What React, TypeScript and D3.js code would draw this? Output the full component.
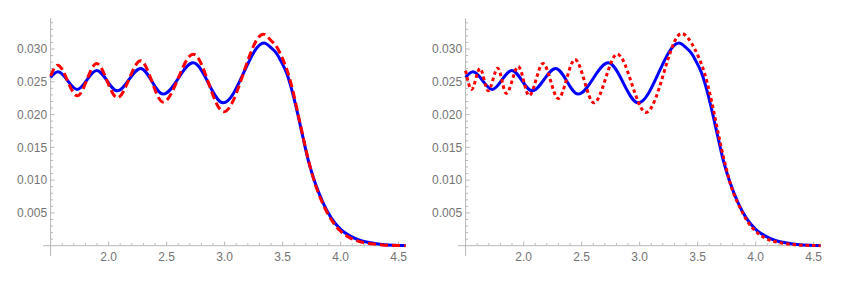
import React from "react";
import * as d3 from "d3";

// tick values
const xTicks = [2.0, 2.5, 3.0, 3.5, 4.0, 4.5];
const yTicks = [0.005, 0.01, 0.015, 0.02, 0.025, 0.03];

// blue solid curve (same in both panels)
const blueSolid: [number, number][] = [
  [1.5, 0.02567], [1.563, 0.02652], [1.73, 0.02384], [1.897, 0.02673],
  [2.075, 0.02362], [2.276, 0.02704], [2.47, 0.02312], [2.73, 0.02789],
  [2.988, 0.02179], [3.339, 0.0309], [3.4, 0.0302], [3.449, 0.0293],
  [3.49, 0.028], [3.535, 0.0263], [3.58, 0.0237], [3.621, 0.0208],
  [3.673, 0.0167], [3.72, 0.0131], [3.78, 0.0096], [3.85, 0.0065],
  [3.92, 0.0042], [4.0, 0.0025], [4.08, 0.0015], [4.17, 0.0008],
  [4.26, 0.00045], [4.36, 0.0002], [4.46, 0.00008], [4.56, 0.00003],
];

// red dashed curve (left panel)
const redDashed: [number, number][] = [
  [1.5, 0.0259], [1.56, 0.02754], [1.73, 0.02286], [1.897, 0.0278],
  [2.075, 0.02256], [2.276, 0.02819], [2.47, 0.0219], [2.73, 0.02921],
  [2.993, 0.02042], [3.333, 0.03226], [3.4, 0.0313], [3.46, 0.03],
  [3.5, 0.0285], [3.545, 0.0264], [3.59, 0.0235], [3.63, 0.0203],
  [3.68, 0.0163], [3.73, 0.0125], [3.79, 0.0089], [3.86, 0.0059],
  [3.93, 0.0037], [4.0, 0.0022], [4.08, 0.0012], [4.17, 0.0006],
  [4.26, 0.0003], [4.36, 0.00012], [4.46, 0.00004], [4.56, 0.00001],
];

// red dotted curve (right panel)
const redDotted: [number, number][] = [
  [1.5, 0.0267], [1.552, 0.02384], [1.624, 0.02703], [1.695, 0.02362],
  [1.777, 0.02708], [1.851, 0.02323], [1.954, 0.02733], [2.048, 0.02289],
  [2.167, 0.0278], [2.299, 0.02246], [2.443, 0.0284], [2.606, 0.0218],
  [2.807, 0.02921], [3.055, 0.02033], [3.362, 0.03237], [3.42, 0.0316],
  [3.475, 0.03], [3.515, 0.0285], [3.56, 0.0263], [3.6, 0.0236],
  [3.64, 0.0204], [3.685, 0.0165], [3.735, 0.0126], [3.79, 0.009],
  [3.86, 0.006], [3.93, 0.0037], [4.0, 0.0022], [4.08, 0.0012],
  [4.17, 0.0006], [4.26, 0.0003], [4.36, 0.00012], [4.46, 0.00004],
  [4.56, 0.00001],
];

const W = 841, H = 285;
const axisColor = "#b8b8b8";
const labelColor = "#747474";
const font = "'Liberation Sans', Arial, sans-serif";

const isMajor = (v: number, step: number) => Math.abs(v / step - Math.round(v / step)) < 1e-6;

const Panel = ({ dx, red, dash }: { dx: number; red: [number, number][]; dash: string }) => {
  const x = d3.scaleLinear().domain([1.5, 4.56]).range([50.6 + dx, 405.6 + dx]);
  const y = d3.scaleLinear().domain([0, 0.03]).range([245.7, 49]);
  const line = d3
    .line<[number, number]>()
    .x((d) => x(d[0]))
    .y((d) => y(d[1]))
    .curve(d3.curveMonotoneX);

  const xMinor = d3.range(16, 46).map((i) => i / 10).filter((v) => !isMajor(v, 0.5));
  const yMinor = d3.range(1, 35).map((i) => i / 1000).filter((v) => !isMajor(v, 0.005));
  const x0 = x(1.5);
  const y0 = y(0);

  return (
    <g>
      {/* axes */}
      <line x1={x(1.435)} x2={x(4.563)} y1={y0} y2={y0} stroke={axisColor} strokeWidth={1} />
      <line x1={x0} x2={x0} y1={y(-0.0016)} y2={y(0.0347)} stroke={axisColor} strokeWidth={1} />
      {xMinor.map((v) => (
        <line key={"xm" + v} x1={x(v)} x2={x(v)} y1={y0} y2={y0 - 2.5} stroke={axisColor} />
      ))}
      {xTicks.map((v) => (
        <g key={"x" + v}>
          <line x1={x(v)} x2={x(v)} y1={y0} y2={y0 - 4} stroke={axisColor} />
          <text x={x(v)} y={y0 + 15.5} textAnchor="middle" fontSize={12} fill={labelColor} fontFamily={font}>
            {v.toFixed(1)}
          </text>
        </g>
      ))}
      {yMinor.map((v) => (
        <line key={"ym" + v} x1={x0} x2={x0 + 2.5} y1={y(v)} y2={y(v)} stroke={axisColor} />
      ))}
      {yTicks.map((v) => (
        <g key={"y" + v}>
          <line x1={x0} x2={x0 + 4} y1={y(v)} y2={y(v)} stroke={axisColor} />
          <text x={x0 - 3.5} y={y(v) + 4.3} textAnchor="end" fontSize={12} fill={labelColor} fontFamily={font}>
            {v.toFixed(3)}
          </text>
        </g>
      ))}
      {/* curves */}
      <path d={line(blueSolid) ?? ""} fill="none" stroke="#0000ff" strokeWidth={3} />
      <path d={line(red) ?? ""} fill="none" stroke="#ff0000" strokeWidth={3} strokeDasharray={dash} />
    </g>
  );
};

export default function App() {
  return (
    <svg width={W} height={H} style={{ position: "absolute", left: 0, top: 0, background: "#fff" }}>
      <Panel dx={0} red={redDashed} dash="8,4" />
      <Panel dx={415} red={redDotted} dash="3.5,3" />
    </svg>
  );
}
